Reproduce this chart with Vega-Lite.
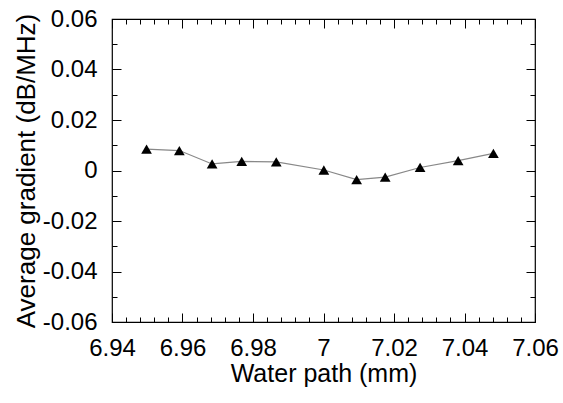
{
  "$schema": "https://vega.github.io/schema/vega-lite/v6.json",
  "width": 423,
  "height": 303,
  "autosize": "none",
  "padding": {"left": 112, "top": 19, "right": 28, "bottom": 81},
  "background": "white",
  "config": {
    "view": {"stroke": "black", "strokeWidth": 1.2},
    "font": "Liberation Sans",
    "axis": {
      "grid": false,
      "domain": false,
      "tickColor": "black",
      "tickWidth": 1,
      "labelColor": "black",
      "labelFont": "Liberation Sans",
      "labelFontSize": 24,
      "titleFont": "Liberation Sans",
      "titleFontWeight": "normal",
      "titleColor": "black"
    }
  },
  "data": {
    "values": [
      {"path": 6.9498, "gradient": 0.0085},
      {"path": 6.9591, "gradient": 0.0079},
      {"path": 6.9684, "gradient": 0.0026},
      {"path": 6.9768, "gradient": 0.0036},
      {"path": 6.9866, "gradient": 0.0034},
      {"path": 7.0001, "gradient": 0.0002},
      {"path": 7.0094, "gradient": -0.0036},
      {"path": 7.0175, "gradient": -0.0026},
      {"path": 7.0274, "gradient": 0.0012},
      {"path": 7.0382, "gradient": 0.0039},
      {"path": 7.0482, "gradient": 0.0068}
    ]
  },
  "layer": [
    {
      "mark": {"type": "line", "color": "#888888", "strokeWidth": 1.2},
      "encoding": {
        "x": {
          "field": "path", "type": "quantitative",
          "scale": {"domain": [6.94, 7.06], "nice": false, "zero": false},
          "axis": {
            "orient": "bottom",
            "values": [6.94, 6.96, 6.98, 7.0, 7.02, 7.04, 7.06],
            "tickSize": -9,
            "labelPadding": 23,
            "labelFlush": false,
            "labelExpr": "format(datum.value, '~g')",
            "title": "Water path (mm)",
            "titleFontSize": 25,
            "titlePadding": 1
          }
        },
        "y": {
          "field": "gradient", "type": "quantitative",
          "scale": {"domain": [-0.06, 0.06], "nice": false, "zero": false},
          "axis": {
            "orient": "left",
            "values": [-0.06, -0.04, -0.02, 0, 0.02, 0.04, 0.06],
            "tickSize": -9,
            "labelPadding": 24,
            "labelFlush": false,
            "labelExpr": "datum.value < 0 ? '-' + format(-datum.value, '~g') : format(datum.value, '~g')",
            "title": "Average gradient (dB/MHz)",
            "titleFontSize": 26,
            "titlePadding": 3
          }
        }
      }
    },
    {
      "mark": {"type": "point", "shape": "triangle-up", "filled": true, "color": "black", "opacity": 1, "size": 115},
      "encoding": {
        "x": {
          "field": "path", "type": "quantitative",
          "axis": {
            "orient": "bottom",
            "values": [6.944, 6.948, 6.952, 6.956, 6.964, 6.968, 6.972, 6.976, 6.984, 6.988, 6.992, 6.996, 7.004, 7.008, 7.012, 7.016, 7.024, 7.028, 7.032, 7.036, 7.044, 7.048, 7.052, 7.056],
            "tickSize": -5,
            "labels": false,
            "title": null
          }
        },
        "y": {
          "field": "gradient", "type": "quantitative",
          "axis": {
            "orient": "left",
            "values": [-0.05, -0.03, -0.01, 0.01, 0.03, 0.05],
            "tickSize": -5,
            "labels": false,
            "title": null
          }
        }
      }
    },
    {
      "mark": {"type": "point", "opacity": 0},
      "encoding": {
        "x": {
          "field": "path", "type": "quantitative",
          "axis": {
            "orient": "top",
            "values": [6.94, 6.96, 6.98, 7.0, 7.02, 7.04, 7.06],
            "tickSize": -9,
            "labels": false,
            "title": null
          }
        },
        "y": {
          "field": "gradient", "type": "quantitative",
          "axis": {
            "orient": "right",
            "values": [-0.06, -0.04, -0.02, 0, 0.02, 0.04, 0.06],
            "tickSize": -9,
            "labels": false,
            "title": null
          }
        }
      }
    },
    {
      "mark": {"type": "point", "opacity": 0},
      "encoding": {
        "x": {
          "field": "path", "type": "quantitative",
          "axis": {
            "orient": "top",
            "values": [6.944, 6.948, 6.952, 6.956, 6.964, 6.968, 6.972, 6.976, 6.984, 6.988, 6.992, 6.996, 7.004, 7.008, 7.012, 7.016, 7.024, 7.028, 7.032, 7.036, 7.044, 7.048, 7.052, 7.056],
            "tickSize": -5,
            "labels": false,
            "title": null
          }
        },
        "y": {
          "field": "gradient", "type": "quantitative",
          "axis": {
            "orient": "right",
            "values": [-0.05, -0.03, -0.01, 0.01, 0.03, 0.05],
            "tickSize": -5,
            "labels": false,
            "title": null
          }
        }
      }
    }
  ],
  "resolve": {"axis": {"x": "independent", "y": "independent"}}
}
